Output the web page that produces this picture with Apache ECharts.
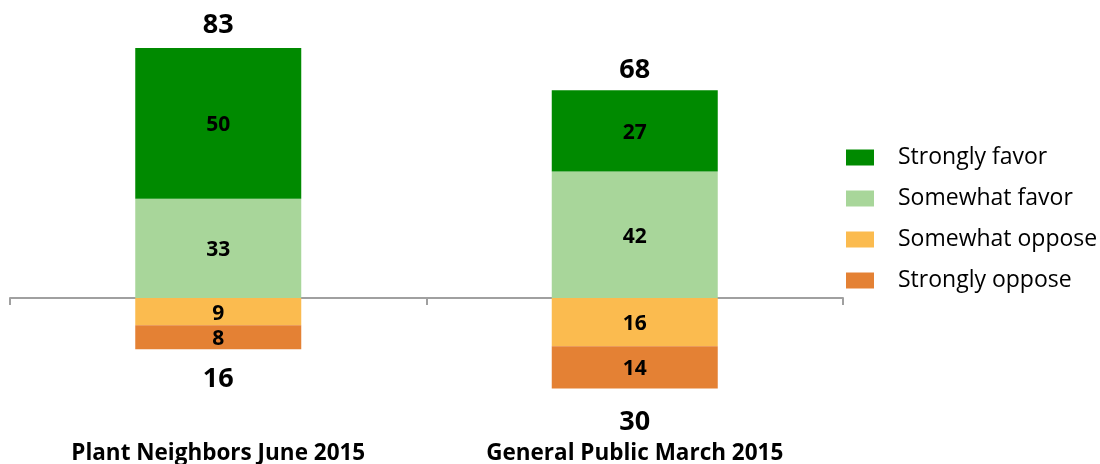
<!DOCTYPE html>
<html>
<head>
<meta charset="utf-8">
<script src="https://cdn.jsdelivr.net/npm/echarts@6/dist/echarts.min.js"></script>
<style>
  html, body { margin: 0; padding: 0; background: #fff; }
  #chart { width: 1100px; height: 464px; }
</style>
</head>
<body>
<div id="chart"></div>
<script>
// data
var categories = ['Plant Neighbors June 2015', 'General Public March 2015'];
var stronglyFavor = [50, 27];
var somewhatFavor = [33, 42];
var somewhatOppose = [9, 16];
var stronglyOppose = [8, 14];
var favorTotals = [83, 68];
var opposeTotals = [16, 30];

var fontFam = '"Open Sans", Lato, sans-serif';

var chartDom = document.getElementById('chart');
var myChart = echarts.init(chartDom);

function neg(arr) {
  return arr.map(function (v) { return -v; });
}

var barLabel = {
  show: true,
  position: 'inside',
  offset: [0, 2],
  color: '#000',
  fontFamily: fontFam,
  fontWeight: 'bold',
  fontSize: 21,
  formatter: function (p) { return Math.abs(p.value); }
};

var option = {
  animation: false,
  grid: {
    left: 10,
    right: 257,
    top: 27,
    bottom: 45.5,
    outerBoundsMode: 'none'
  },
  legend: {
    orient: 'vertical',
    left: 841,
    top: 141,
    itemWidth: 28,
    itemHeight: 16,
    itemGap: 18,
    icon: 'rect',
    data: ['Strongly favor', 'Somewhat favor', 'Somewhat oppose', 'Strongly oppose'],
    textStyle: {
      fontFamily: fontFam,
      fontSize: 23,
      color: '#000',
      padding: [0, 0, 0, 19]
    }
  },
  xAxis: {
    type: 'category',
    data: categories,
    axisLine: {
      onZero: true,
      lineStyle: { color: '#a0a0a0', width: 2 }
    },
    axisTick: {
      show: true,
      length: 7,
      lineStyle: { color: '#a0a0a0', width: 2 }
    },
    axisLabel: {
      margin: 24,
      color: '#000',
      fontFamily: fontFam,
      fontWeight: 'bold',
      fontSize: 22.5
    }
  },
  yAxis: {
    type: 'value',
    min: -40,
    max: 90,
    show: false,
    splitLine: { show: false }
  },
  series: [
    {
      name: 'Somewhat favor',
      type: 'bar',
      stack: 'total',
      barWidth: 166,
      itemStyle: { color: '#a8d69a' },
      label: barLabel,
      data: somewhatFavor
    },
    {
      name: 'Strongly favor',
      type: 'bar',
      stack: 'total',
      barWidth: 166,
      itemStyle: { color: '#008a00' },
      label: barLabel,
      data: stronglyFavor
    },
    {
      name: 'Somewhat oppose',
      type: 'bar',
      stack: 'total',
      barWidth: 166,
      itemStyle: { color: '#fbbb4f' },
      label: barLabel,
      data: neg(somewhatOppose)
    },
    {
      name: 'Strongly oppose',
      type: 'bar',
      stack: 'total',
      barWidth: 166,
      itemStyle: { color: '#e48134' },
      label: barLabel,
      data: neg(stronglyOppose)
    },
    {
      // net favor totals above the bars
      name: 'favorTotal',
      type: 'scatter',
      symbolSize: 0,
      itemStyle: { opacity: 1 },
      data: favorTotals,
      label: {
        show: true,
        position: 'top',
        distance: 9,
        color: '#000',
        fontFamily: fontFam,
        fontWeight: 'bold',
        fontSize: 27,
        formatter: function (p) { return p.value; }
      },
      z: 10
    },
    {
      // net oppose totals below the bars
      name: 'opposeTotal',
      type: 'scatter',
      symbolSize: 0,
      itemStyle: { opacity: 1 },
      data: neg(opposeTotals),
      label: {
        show: true,
        position: 'bottom',
        distance: 20,
        color: '#000',
        fontFamily: fontFam,
        fontWeight: 'bold',
        fontSize: 27,
        formatter: function (p) { return Math.abs(p.value); }
      },
      z: 10
    }
  ]
};

myChart.setOption(option);
</script>
</body>
</html>
